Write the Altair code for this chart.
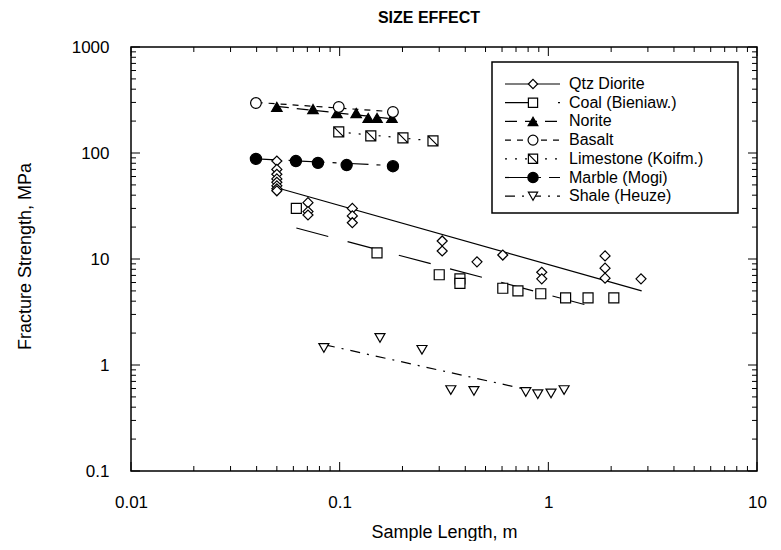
import altair as alt
import pandas as pd

# ---------------- data ----------------
qtz_x = [0.05, 0.05, 0.05, 0.05, 0.05, 0.05, 0.05, 0.05, 0.0705, 0.0705, 0.0705,
         0.115, 0.115, 0.115, 0.31, 0.31, 0.455, 0.605, 0.93, 0.93, 1.87, 1.87, 1.87, 2.78]
qtz_y = [84, 70, 63, 57, 53, 49, 46, 44, 34, 28, 26,
         30, 25.5, 22, 14.8, 11.9, 9.4, 10.9, 7.5, 6.5, 10.7, 8.2, 6.6, 6.5]

coal_x = [0.062, 0.151, 0.30, 0.377, 0.377, 0.605, 0.715, 0.92, 1.21, 1.55, 2.06]
coal_y = [30, 11.4, 7.1, 6.5, 5.9, 5.3, 5.0, 4.7, 4.3, 4.3, 4.3]

norite_x = [0.05, 0.0745, 0.097, 0.12, 0.137, 0.151, 0.178]
norite_y = [272, 260, 238, 238, 214, 214, 214]

basalt_x = [0.0397, 0.099, 0.18]
basalt_y = [296, 272, 244]

lime_x = [0.099, 0.141, 0.201, 0.28]
lime_y = [158, 145, 139, 130]

marble_x = [0.0397, 0.0617, 0.0787, 0.108, 0.18]
marble_y = [88, 84, 80.6, 77, 75]

shale_x = [0.084, 0.156, 0.248, 0.341, 0.44, 0.78, 0.89, 1.03, 1.19]
shale_y = [1.45, 1.8, 1.39, 0.58, 0.57, 0.556, 0.53, 0.54, 0.58]

# fitted trend lines (end points)
qtz_fit_x, qtz_fit_y = [0.05, 2.8], [47, 5.0]
coal_fit_x, coal_fit_y = [0.062, 1.77], [19.6, 3.4]
norite_fit_x, norite_fit_y = [0.05, 0.18], [275, 210]
basalt_fit_x, basalt_fit_y = [0.04, 0.18], [300, 245]
lime_fit_x, lime_fit_y = [0.099, 0.28], [158, 130]
marble_fit_x, marble_fit_y = [0.04, 0.18], [88, 76]
shale_fit_x, shale_fit_y = [0.085, 0.75], [1.55, 0.6]

labels = ["Qtz Diorite", "Coal  (Bieniaw.)", "Norite", "Basalt",
          "Limestone  (Koifm.)", "Marble  (Mogi)", "Shale (Heuze)"]
chart_title = ["SIZE EFFECT"]

x_major = [0.01, 0.1, 1, 10]
y_major = [0.1, 1, 10, 100, 1000]
x_minor = [k * m for m in [0.01, 0.1, 1] for k in range(2, 10)]
y_minor = [k * m for m in [0.1, 1, 10, 100] for k in range(2, 10)]

# ---------------- styling ----------------
W, H = 626, 424
FONT = "Liberation Sans"
BOX_PATH = "M-1,-1H1V1H-1Z M-1,-1L1,1"

series = [
    # label, pts x, pts y, fit x, fit y, shape, fill, size, dash
    (labels[0], qtz_x, qtz_y, qtz_fit_x, qtz_fit_y, "diamond", "white", 100, []),
    (labels[1], coal_x, coal_y, coal_fit_x, coal_fit_y, "square", "white", 100, [33, 20]),
    (labels[2], norite_x, norite_y, norite_fit_x, norite_fit_y, "triangle-up", "black", 110, [12, 8]),
    (labels[3], basalt_x, basalt_y, basalt_fit_x, basalt_fit_y, "circle", "white", 115, [6, 6]),
    (labels[4], lime_x, lime_y, lime_fit_x, lime_fit_y, BOX_PATH, "white", 100, [2, 8]),
    (labels[5], marble_x, marble_y, marble_fit_x, marble_fit_y, "circle", "black", 125, [24, 8, 4, 8]),
    (labels[6], shale_x, shale_y, shale_fit_x, shale_fit_y, "triangle-down", "white", 100, [10, 7, 2, 7]),
]

xscale = alt.Scale(type="log", domain=[0.01, 10], nice=False)
yscale = alt.Scale(type="log", domain=[0.1, 1000], nice=False)

xaxis = alt.Axis(values=x_major, format="~g", ticks=False, domain=False, grid=False,
                 labelFontSize=17, labelFont=FONT, labelPadding=23, labelFlush=False,
                 labelColor="black", title="Sample Length, m", titleFontSize=18,
                 titleFont=FONT, titleFontWeight="normal", titleColor="black",
                 titleY=66, titleBaseline="alphabetic")
yaxis = alt.Axis(values=y_major, format="~g", ticks=False, domain=False, grid=False,
                 labelFontSize=17, labelFont=FONT, labelPadding=22, labelFlush=False,
                 labelColor="black", title="Fracture Strength, MPa", titleFontSize=18,
                 titleFont=FONT, titleFontWeight="normal", titleColor="black",
                 titleX=-106, titleY=209, titleBaseline="middle")

X = alt.X("x:Q", scale=xscale, axis=xaxis)
Y = alt.Y("y:Q", scale=yscale, axis=yaxis)

layers = []

# trend lines
for lab, px, py, fx, fy, shp, fill, size, dash in series:
    df = pd.DataFrame({"x": fx, "y": fy})
    kw = dict(color="black", strokeWidth=1.2)
    if dash:
        kw["strokeDash"] = dash
    layers.append(alt.Chart(df).mark_line(**kw).encode(x=X, y=Y))

# points
for lab, px, py, fx, fy, shp, fill, size, dash in series:
    df = pd.DataFrame({"x": px, "y": py})
    layers.append(
        alt.Chart(df).mark_point(shape=shp, filled=True, fill=fill, stroke="black",
                                 strokeWidth=1.2, size=size, opacity=1)
        .encode(x=X, y=Y)
    )

# inward ticks on all four sides
for vals, ln in [(x_major, 9), (x_minor, 5)]:
    df = pd.DataFrame({"x": vals})
    layers.append(alt.Chart(df).mark_rule(color="black", strokeWidth=1)
                  .encode(x=X, y=alt.value(H), y2=alt.value(H - ln)))
    layers.append(alt.Chart(df).mark_rule(color="black", strokeWidth=1)
                  .encode(x=X, y=alt.value(0), y2=alt.value(ln)))
for vals, ln in [(y_major, 9), (y_minor, 5)]:
    df = pd.DataFrame({"y": vals})
    layers.append(alt.Chart(df).mark_rule(color="black", strokeWidth=1)
                  .encode(y=Y, x=alt.value(0), x2=alt.value(ln)))
    layers.append(alt.Chart(df).mark_rule(color="black", strokeWidth=1)
                  .encode(y=Y, x=alt.value(W), x2=alt.value(W - ln)))

# chart title
layers.append(alt.Chart(pd.DataFrame({"t": chart_title}))
              .mark_text(align="center", baseline="alphabetic", font=FONT, fontSize=16,
                         fontWeight="bold", color="black")
              .encode(x=alt.value(298), y=alt.value(-24), text="t:N"))

# legend box
one = pd.DataFrame({"a": [0]})
layers.append(alt.Chart(one).mark_rect(fill="white", stroke="black", strokeWidth=1.5)
              .encode(x=alt.value(361), x2=alt.value(607), y=alt.value(15), y2=alt.value(166)))
row_y0, row_dy = 37, 18.7
for i, (lab, px, py, fx, fy, shp, fill, size, dash) in enumerate(series):
    ry = row_y0 + i * row_dy
    ldf = pd.DataFrame({"label": [lab]})
    kw = dict(color="black", strokeWidth=1.2)
    if dash:
        kw["strokeDash"] = dash
    layers.append(alt.Chart(ldf).mark_rule(**kw)
                  .encode(x=alt.value(374), x2=alt.value(429), y=alt.value(ry)))
    layers.append(alt.Chart(ldf).mark_point(shape=shp, filled=True, fill=fill, stroke="black",
                                            strokeWidth=1.2, size=size * 0.85, opacity=1)
                  .encode(x=alt.value(402), y=alt.value(ry)))
    layers.append(alt.Chart(ldf).mark_text(align="left", baseline="middle", font=FONT,
                                           fontSize=16, color="black")
                  .encode(x=alt.value(438), y=alt.value(ry), text="label:N"))

chart = (
    alt.layer(*layers)
    .properties(
        width=W, height=H,
        autosize=alt.AutoSizeParams(type="none"),
        padding={"left": 123, "top": 39, "right": 16, "bottom": 70},
    )
    .configure_view(stroke="black", strokeWidth=1.5)
)

chart.save("out.html", embed_options={"renderer": "svg", "actions": False})
